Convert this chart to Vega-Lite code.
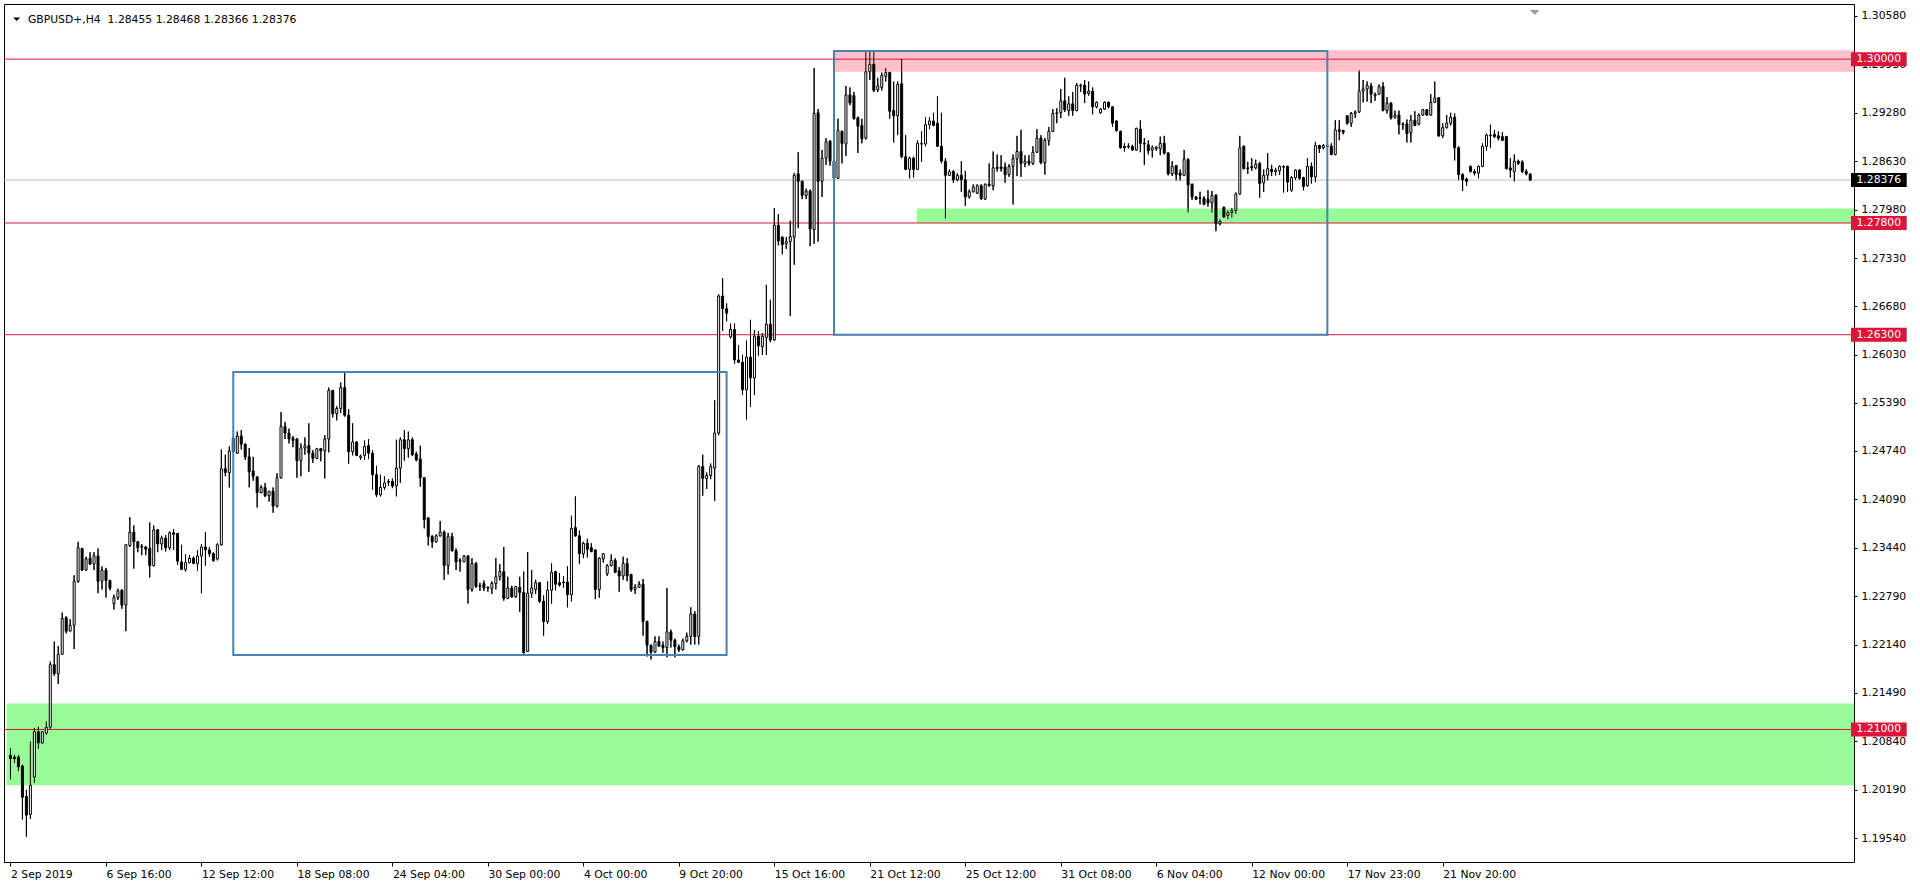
{
"$schema":"https://vega.github.io/schema/vega-lite/v6.json",
"width":1850,"height":858,
"autosize":{"type":"none"},
"padding":{"left":4,"top":4,"right":66,"bottom":26},
"background":"white",
"config":{"view":{"stroke":"black","strokeWidth":1},"font":"DejaVu Sans"},
"datasets":{
"candles":[
{"i":0,"o":1.2065,"h":1.2075,"l":1.2033,"c":1.2061},
{"i":1,"o":1.2063,"h":1.2066,"l":1.2055,"c":1.2061},
{"i":2,"o":1.2063,"h":1.2066,"l":1.2044,"c":1.2050},
{"i":3,"o":1.2051,"h":1.2053,"l":1.1979,"c":1.2009},
{"i":4,"o":1.2010,"h":1.2019,"l":1.1956,"c":1.1985},
{"i":5,"o":1.1986,"h":1.2084,"l":1.1980,"c":1.2025},
{"i":6,"o":1.2036,"h":1.2102,"l":1.2028,"c":1.2097},
{"i":7,"o":1.2097,"h":1.2104,"l":1.2074,"c":1.2082},
{"i":8,"o":1.2082,"h":1.2097,"l":1.2081,"c":1.2097},
{"i":9,"o":1.2095,"h":1.2111,"l":1.2093,"c":1.2103},
{"i":10,"o":1.2103,"h":1.2191,"l":1.2100,"c":1.2187},
{"i":11,"o":1.2187,"h":1.2218,"l":1.2172,"c":1.2175},
{"i":12,"o":1.2175,"h":1.2212,"l":1.2161,"c":1.2201},
{"i":13,"o":1.2201,"h":1.2257,"l":1.2201,"c":1.2249},
{"i":14,"o":1.2250,"h":1.2252,"l":1.2229,"c":1.2232},
{"i":15,"o":1.2232,"h":1.2248,"l":1.2232,"c":1.2240},
{"i":16,"o":1.2240,"h":1.2307,"l":1.2208,"c":1.2299},
{"i":17,"o":1.2299,"h":1.2352,"l":1.2297,"c":1.2344},
{"i":18,"o":1.2343,"h":1.2344,"l":1.2313,"c":1.2314},
{"i":19,"o":1.2314,"h":1.2332,"l":1.2313,"c":1.2329},
{"i":20,"o":1.2330,"h":1.2338,"l":1.2321,"c":1.2322},
{"i":21,"o":1.2322,"h":1.2338,"l":1.2314,"c":1.2333},
{"i":22,"o":1.2333,"h":1.2343,"l":1.2283,"c":1.2299},
{"i":23,"o":1.2299,"h":1.2319,"l":1.2288,"c":1.2314},
{"i":24,"o":1.2314,"h":1.2317,"l":1.2277,"c":1.2300},
{"i":25,"o":1.2300,"h":1.2301,"l":1.2287,"c":1.2290},
{"i":26,"o":1.2269,"h":1.2281,"l":1.2261,"c":1.2277},
{"i":27,"o":1.2277,"h":1.2289,"l":1.2274,"c":1.2286},
{"i":28,"o":1.2287,"h":1.2288,"l":1.2262,"c":1.2267},
{"i":29,"o":1.2267,"h":1.2349,"l":1.2232,"c":1.2348},
{"i":30,"o":1.2347,"h":1.2385,"l":1.2345,"c":1.2365},
{"i":31,"o":1.2365,"h":1.2374,"l":1.2316,"c":1.2352},
{"i":32,"o":1.2352,"h":1.2353,"l":1.2338,"c":1.2344},
{"i":33,"o":1.2346,"h":1.2349,"l":1.2334,"c":1.2345},
{"i":34,"o":1.2345,"h":1.2346,"l":1.2334,"c":1.2342},
{"i":35,"o":1.2343,"h":1.2378,"l":1.2304,"c":1.2320},
{"i":36,"o":1.2320,"h":1.2374,"l":1.2319,"c":1.2368},
{"i":37,"o":1.2368,"h":1.2369,"l":1.2338,"c":1.2349},
{"i":38,"o":1.2349,"h":1.2360,"l":1.2341,"c":1.2357},
{"i":39,"o":1.2357,"h":1.2361,"l":1.2339,"c":1.2344},
{"i":40,"o":1.2344,"h":1.2366,"l":1.2341,"c":1.2364},
{"i":41,"o":1.2364,"h":1.2369,"l":1.2341,"c":1.2362},
{"i":42,"o":1.2363,"h":1.2364,"l":1.2321,"c":1.2326},
{"i":43,"o":1.2325,"h":1.2348,"l":1.2314,"c":1.2315},
{"i":44,"o":1.2315,"h":1.2335,"l":1.2312,"c":1.2324},
{"i":45,"o":1.2324,"h":1.2334,"l":1.2323,"c":1.2330},
{"i":46,"o":1.2330,"h":1.2332,"l":1.2322,"c":1.2323},
{"i":47,"o":1.2323,"h":1.2341,"l":1.2313,"c":1.2333},
{"i":48,"o":1.2333,"h":1.2349,"l":1.2283,"c":1.2345},
{"i":49,"o":1.2345,"h":1.2365,"l":1.2320,"c":1.2341},
{"i":50,"o":1.2341,"h":1.2345,"l":1.2332,"c":1.2336},
{"i":51,"o":1.2336,"h":1.2338,"l":1.2325,"c":1.2327},
{"i":52,"o":1.2329,"h":1.2350,"l":1.2327,"c":1.2348},
{"i":53,"o":1.2348,"h":1.2476,"l":1.2347,"c":1.2450},
{"i":54,"o":1.2450,"h":1.2469,"l":1.2440,"c":1.2445},
{"i":55,"o":1.2445,"h":1.2480,"l":1.2425,"c":1.2474},
{"i":56,"o":1.2473,"h":1.2493,"l":1.2471,"c":1.2491},
{"i":57,"o":1.2471,"h":1.2500,"l":1.2470,"c":1.2494},
{"i":58,"o":1.2494,"h":1.2502,"l":1.2476,"c":1.2483},
{"i":59,"o":1.2483,"h":1.2484,"l":1.2462,"c":1.2466},
{"i":60,"o":1.2466,"h":1.2478,"l":1.2425,"c":1.2446},
{"i":61,"o":1.2447,"h":1.2466,"l":1.2434,"c":1.2440},
{"i":62,"o":1.2439,"h":1.2440,"l":1.2398,"c":1.2418},
{"i":63,"o":1.2418,"h":1.2428,"l":1.2417,"c":1.2425},
{"i":64,"o":1.2425,"h":1.2431,"l":1.2412,"c":1.2414},
{"i":65,"o":1.2414,"h":1.2420,"l":1.2406,"c":1.2420},
{"i":66,"o":1.2420,"h":1.2425,"l":1.2391,"c":1.2400},
{"i":67,"o":1.2400,"h":1.2444,"l":1.2398,"c":1.2438},
{"i":68,"o":1.2438,"h":1.2526,"l":1.2437,"c":1.2507},
{"i":69,"o":1.2507,"h":1.2513,"l":1.2490,"c":1.2498},
{"i":70,"o":1.2498,"h":1.2504,"l":1.2484,"c":1.2490},
{"i":71,"o":1.2491,"h":1.2494,"l":1.2479,"c":1.2488},
{"i":72,"o":1.2490,"h":1.2491,"l":1.2438,"c":1.2461},
{"i":73,"o":1.2461,"h":1.2484,"l":1.2440,"c":1.2478},
{"i":74,"o":1.2478,"h":1.2492,"l":1.2469,"c":1.2481},
{"i":75,"o":1.2481,"h":1.2511,"l":1.2446,"c":1.2471},
{"i":76,"o":1.2471,"h":1.2475,"l":1.2458,"c":1.2464},
{"i":77,"o":1.2464,"h":1.2478,"l":1.2463,"c":1.2477},
{"i":78,"o":1.2477,"h":1.2478,"l":1.2460,"c":1.2474},
{"i":79,"o":1.2474,"h":1.2495,"l":1.2437,"c":1.2490},
{"i":80,"o":1.2490,"h":1.2559,"l":1.2472,"c":1.2555},
{"i":81,"o":1.2555,"h":1.2556,"l":1.2519,"c":1.2524},
{"i":82,"o":1.2524,"h":1.2534,"l":1.2515,"c":1.2531},
{"i":83,"o":1.2531,"h":1.2566,"l":1.2525,"c":1.2559},
{"i":84,"o":1.2559,"h":1.2580,"l":1.2520,"c":1.2522},
{"i":85,"o":1.2522,"h":1.2530,"l":1.2457,"c":1.2473},
{"i":86,"o":1.2473,"h":1.2511,"l":1.2468,"c":1.2486},
{"i":87,"o":1.2486,"h":1.2487,"l":1.2467,"c":1.2468},
{"i":88,"o":1.2465,"h":1.2469,"l":1.2462,"c":1.2467},
{"i":89,"o":1.2468,"h":1.2488,"l":1.2462,"c":1.2480},
{"i":90,"o":1.2481,"h":1.2490,"l":1.2463,"c":1.2471},
{"i":91,"o":1.2471,"h":1.2475,"l":1.2422,"c":1.2442},
{"i":92,"o":1.2442,"h":1.2454,"l":1.2412,"c":1.2415},
{"i":93,"o":1.2415,"h":1.2442,"l":1.2413,"c":1.2425},
{"i":94,"o":1.2425,"h":1.2440,"l":1.2422,"c":1.2431},
{"i":95,"o":1.2432,"h":1.2436,"l":1.2427,"c":1.2433},
{"i":96,"o":1.2433,"h":1.2437,"l":1.2424,"c":1.2427},
{"i":97,"o":1.2427,"h":1.2489,"l":1.2413,"c":1.2451},
{"i":98,"o":1.2451,"h":1.2492,"l":1.2431,"c":1.2489},
{"i":99,"o":1.2489,"h":1.2502,"l":1.2461,"c":1.2477},
{"i":100,"o":1.2477,"h":1.2500,"l":1.2465,"c":1.2489},
{"i":101,"o":1.2489,"h":1.2492,"l":1.2467,"c":1.2469},
{"i":102,"o":1.2470,"h":1.2473,"l":1.2460,"c":1.2462},
{"i":103,"o":1.2463,"h":1.2481,"l":1.2426,"c":1.2438},
{"i":104,"o":1.2438,"h":1.2439,"l":1.2370,"c":1.2382},
{"i":105,"o":1.2384,"h":1.2385,"l":1.2347,"c":1.2359},
{"i":106,"o":1.2359,"h":1.2361,"l":1.2344,"c":1.2352},
{"i":107,"o":1.2352,"h":1.2362,"l":1.2351,"c":1.2360},
{"i":108,"o":1.2360,"h":1.2380,"l":1.2359,"c":1.2365},
{"i":109,"o":1.2365,"h":1.2367,"l":1.2301,"c":1.2320},
{"i":110,"o":1.2320,"h":1.2364,"l":1.2308,"c":1.2359},
{"i":111,"o":1.2359,"h":1.2364,"l":1.2339,"c":1.2340},
{"i":112,"o":1.2340,"h":1.2343,"l":1.2314,"c":1.2325},
{"i":113,"o":1.2327,"h":1.2330,"l":1.2312,"c":1.2326},
{"i":114,"o":1.2325,"h":1.2334,"l":1.2325,"c":1.2333},
{"i":115,"o":1.2333,"h":1.2334,"l":1.2269,"c":1.2288},
{"i":116,"o":1.2288,"h":1.2330,"l":1.2285,"c":1.2323},
{"i":117,"o":1.2323,"h":1.2325,"l":1.2290,"c":1.2292},
{"i":118,"o":1.2293,"h":1.2297,"l":1.2286,"c":1.2292},
{"i":119,"o":1.2296,"h":1.2300,"l":1.2286,"c":1.2290},
{"i":120,"o":1.2290,"h":1.2292,"l":1.2285,"c":1.2291},
{"i":121,"o":1.2289,"h":1.2299,"l":1.2282,"c":1.2296},
{"i":122,"o":1.2296,"h":1.2330,"l":1.2288,"c":1.2305},
{"i":123,"o":1.2305,"h":1.2322,"l":1.2300,"c":1.2312},
{"i":124,"o":1.2312,"h":1.2345,"l":1.2273,"c":1.2276},
{"i":125,"o":1.2276,"h":1.2305,"l":1.2275,"c":1.2290},
{"i":126,"o":1.2290,"h":1.2293,"l":1.2277,"c":1.2278},
{"i":127,"o":1.2278,"h":1.2292,"l":1.2277,"c":1.2292},
{"i":128,"o":1.2291,"h":1.2305,"l":1.2258,"c":1.2284},
{"i":129,"o":1.2284,"h":1.2312,"l":1.2202,"c":1.2203},
{"i":130,"o":1.2205,"h":1.2338,"l":1.2204,"c":1.2283},
{"i":131,"o":1.2283,"h":1.2314,"l":1.2277,"c":1.2290},
{"i":132,"o":1.2288,"h":1.2301,"l":1.2282,"c":1.2297},
{"i":133,"o":1.2297,"h":1.2298,"l":1.2270,"c":1.2272},
{"i":134,"o":1.2272,"h":1.2280,"l":1.2226,"c":1.2245},
{"i":135,"o":1.2245,"h":1.2299,"l":1.2242,"c":1.2287},
{"i":136,"o":1.2287,"h":1.2323,"l":1.2269,"c":1.2311},
{"i":137,"o":1.2312,"h":1.2313,"l":1.2287,"c":1.2295},
{"i":138,"o":1.2297,"h":1.2310,"l":1.2292,"c":1.2294},
{"i":139,"o":1.2298,"h":1.2306,"l":1.2290,"c":1.2297},
{"i":140,"o":1.2298,"h":1.2319,"l":1.2264,"c":1.2281},
{"i":141,"o":1.2281,"h":1.2387,"l":1.2272,"c":1.2370},
{"i":142,"o":1.2371,"h":1.2413,"l":1.2359,"c":1.2360},
{"i":143,"o":1.2360,"h":1.2367,"l":1.2322,"c":1.2336},
{"i":144,"o":1.2336,"h":1.2352,"l":1.2330,"c":1.2350},
{"i":145,"o":1.2350,"h":1.2356,"l":1.2331,"c":1.2342},
{"i":146,"o":1.2344,"h":1.2350,"l":1.2338,"c":1.2339},
{"i":147,"o":1.2341,"h":1.2342,"l":1.2275,"c":1.2288},
{"i":148,"o":1.2288,"h":1.2331,"l":1.2277,"c":1.2330},
{"i":149,"o":1.2329,"h":1.2337,"l":1.2324,"c":1.2336},
{"i":150,"o":1.2309,"h":1.2322,"l":1.2306,"c":1.2320},
{"i":151,"o":1.2320,"h":1.2335,"l":1.2319,"c":1.2327},
{"i":152,"o":1.2327,"h":1.2330,"l":1.2310,"c":1.2311},
{"i":153,"o":1.2313,"h":1.2318,"l":1.2285,"c":1.2306},
{"i":154,"o":1.2306,"h":1.2332,"l":1.2301,"c":1.2323},
{"i":155,"o":1.2323,"h":1.2330,"l":1.2299,"c":1.2306},
{"i":156,"o":1.2308,"h":1.2309,"l":1.2285,"c":1.2288},
{"i":157,"o":1.2288,"h":1.2295,"l":1.2282,"c":1.2291},
{"i":158,"o":1.2291,"h":1.2299,"l":1.2290,"c":1.2295},
{"i":159,"o":1.2295,"h":1.2302,"l":1.2226,"c":1.2245},
{"i":160,"o":1.2245,"h":1.2246,"l":1.2198,"c":1.2213},
{"i":161,"o":1.2213,"h":1.2214,"l":1.2194,"c":1.2204},
{"i":162,"o":1.2204,"h":1.2225,"l":1.2203,"c":1.2218},
{"i":163,"o":1.2218,"h":1.2225,"l":1.2211,"c":1.2212},
{"i":164,"o":1.2213,"h":1.2218,"l":1.2203,"c":1.2210},
{"i":165,"o":1.2210,"h":1.2290,"l":1.2197,"c":1.2231},
{"i":166,"o":1.2231,"h":1.2234,"l":1.2210,"c":1.2220},
{"i":167,"o":1.2220,"h":1.2222,"l":1.2197,"c":1.2211},
{"i":168,"o":1.2211,"h":1.2214,"l":1.2204,"c":1.2207},
{"i":169,"o":1.2207,"h":1.2222,"l":1.2206,"c":1.2219},
{"i":170,"o":1.2219,"h":1.2230,"l":1.2217,"c":1.2225},
{"i":171,"o":1.2225,"h":1.2264,"l":1.2214,"c":1.2255},
{"i":172,"o":1.2255,"h":1.2259,"l":1.2214,"c":1.2225},
{"i":173,"o":1.2225,"h":1.2455,"l":1.2214,"c":1.2453},
{"i":174,"o":1.2453,"h":1.2469,"l":1.2414,"c":1.2437},
{"i":175,"o":1.2437,"h":1.2445,"l":1.2423,"c":1.2441},
{"i":176,"o":1.2441,"h":1.2457,"l":1.2436,"c":1.2453},
{"i":177,"o":1.2451,"h":1.2542,"l":1.2407,"c":1.2498},
{"i":178,"o":1.2498,"h":1.2684,"l":1.2495,"c":1.2682},
{"i":179,"o":1.2682,"h":1.2706,"l":1.2635,"c":1.2665},
{"i":180,"o":1.2665,"h":1.2672,"l":1.2648,"c":1.2659},
{"i":181,"o":1.2627,"h":1.2645,"l":1.2625,"c":1.2637},
{"i":182,"o":1.2637,"h":1.2645,"l":1.2591,"c":1.2596},
{"i":183,"o":1.2596,"h":1.2616,"l":1.2592,"c":1.2593},
{"i":184,"o":1.2593,"h":1.2603,"l":1.2549,"c":1.2556},
{"i":185,"o":1.2556,"h":1.2622,"l":1.2516,"c":1.2600},
{"i":186,"o":1.2600,"h":1.2650,"l":1.2533,"c":1.2572},
{"i":187,"o":1.2572,"h":1.2636,"l":1.2549,"c":1.2628},
{"i":188,"o":1.2628,"h":1.2635,"l":1.2602,"c":1.2615},
{"i":189,"o":1.2614,"h":1.2632,"l":1.2603,"c":1.2628},
{"i":190,"o":1.2626,"h":1.2697,"l":1.2603,"c":1.2644},
{"i":191,"o":1.2644,"h":1.2677,"l":1.2620,"c":1.2623},
{"i":192,"o":1.2623,"h":1.2800,"l":1.2622,"c":1.2777},
{"i":193,"o":1.2777,"h":1.2792,"l":1.2750,"c":1.2756},
{"i":194,"o":1.2761,"h":1.2762,"l":1.2738,"c":1.2751},
{"i":195,"o":1.2752,"h":1.2761,"l":1.2745,"c":1.2755},
{"i":196,"o":1.2755,"h":1.2783,"l":1.2655,"c":1.2762},
{"i":197,"o":1.2761,"h":1.2847,"l":1.2724,"c":1.2844},
{"i":198,"o":1.2846,"h":1.2875,"l":1.2773,"c":1.2836},
{"i":199,"o":1.2836,"h":1.2837,"l":1.2812,"c":1.2817},
{"i":200,"o":1.2817,"h":1.2826,"l":1.2812,"c":1.2823},
{"i":201,"o":1.2823,"h":1.2825,"l":1.2749,"c":1.2772},
{"i":202,"o":1.2771,"h":1.2988,"l":1.2752,"c":1.2927},
{"i":203,"o":1.2928,"h":1.2933,"l":1.2755,"c":1.2836},
{"i":204,"o":1.2836,"h":1.2878,"l":1.2815,"c":1.2867},
{"i":205,"o":1.2867,"h":1.2894,"l":1.2858,"c":1.2889},
{"i":206,"o":1.2890,"h":1.2891,"l":1.2857,"c":1.2863},
{"i":207,"o":1.2863,"h":1.2874,"l":1.2838,"c":1.2840},
{"i":208,"o":1.2840,"h":1.2920,"l":1.2839,"c":1.2904},
{"i":209,"o":1.2903,"h":1.2904,"l":1.2860,"c":1.2887},
{"i":210,"o":1.2886,"h":1.2964,"l":1.2870,"c":1.2952},
{"i":211,"o":1.2952,"h":1.2962,"l":1.2938,"c":1.2941},
{"i":212,"o":1.2951,"h":1.2956,"l":1.2919,"c":1.2920},
{"i":213,"o":1.2921,"h":1.2923,"l":1.2874,"c":1.2910},
{"i":214,"o":1.2911,"h":1.2920,"l":1.2887,"c":1.2893},
{"i":215,"o":1.2894,"h":1.3010,"l":1.2892,"c":1.2983},
{"i":216,"o":1.2983,"h":1.3010,"l":1.2972,"c":1.2993},
{"i":217,"o":1.2993,"h":1.3010,"l":1.2956,"c":1.2958},
{"i":218,"o":1.2959,"h":1.2975,"l":1.2956,"c":1.2964},
{"i":219,"o":1.2962,"h":1.2982,"l":1.2958,"c":1.2978},
{"i":220,"o":1.2977,"h":1.2988,"l":1.2970,"c":1.2982},
{"i":221,"o":1.2982,"h":1.2983,"l":1.2920,"c":1.2930},
{"i":222,"o":1.2931,"h":1.2970,"l":1.2888,"c":1.2924},
{"i":223,"o":1.2924,"h":1.2970,"l":1.2898,"c":1.2966},
{"i":224,"o":1.2967,"h":1.3000,"l":1.2867,"c":1.2869},
{"i":225,"o":1.2869,"h":1.2898,"l":1.2851,"c":1.2852},
{"i":226,"o":1.2852,"h":1.2869,"l":1.2840,"c":1.2867},
{"i":227,"o":1.2867,"h":1.2869,"l":1.2841,"c":1.2852},
{"i":228,"o":1.2852,"h":1.2891,"l":1.2851,"c":1.2887},
{"i":229,"o":1.2886,"h":1.2903,"l":1.2862,"c":1.2887},
{"i":230,"o":1.2886,"h":1.2922,"l":1.2883,"c":1.2912},
{"i":231,"o":1.2912,"h":1.2922,"l":1.2906,"c":1.2917},
{"i":232,"o":1.2917,"h":1.2928,"l":1.2910,"c":1.2911},
{"i":233,"o":1.2914,"h":1.2950,"l":1.2882,"c":1.2883},
{"i":234,"o":1.2883,"h":1.2928,"l":1.2860,"c":1.2863},
{"i":235,"o":1.2863,"h":1.2867,"l":1.2786,"c":1.2844},
{"i":236,"o":1.2844,"h":1.2852,"l":1.2843,"c":1.2849},
{"i":237,"o":1.2849,"h":1.2851,"l":1.2834,"c":1.2838},
{"i":238,"o":1.2838,"h":1.2847,"l":1.2836,"c":1.2844},
{"i":239,"o":1.2844,"h":1.2863,"l":1.2822,"c":1.2838},
{"i":240,"o":1.2838,"h":1.2850,"l":1.2803,"c":1.2815},
{"i":241,"o":1.2815,"h":1.2825,"l":1.2813,"c":1.2822},
{"i":242,"o":1.2822,"h":1.2832,"l":1.2821,"c":1.2828},
{"i":243,"o":1.2820,"h":1.2832,"l":1.2819,"c":1.2830},
{"i":244,"o":1.2830,"h":1.2832,"l":1.2811,"c":1.2813},
{"i":245,"o":1.2812,"h":1.2833,"l":1.2811,"c":1.2832},
{"i":246,"o":1.2832,"h":1.2860,"l":1.2829,"c":1.2830},
{"i":247,"o":1.2830,"h":1.2876,"l":1.2824,"c":1.2854},
{"i":248,"o":1.2855,"h":1.2872,"l":1.2849,"c":1.2853},
{"i":249,"o":1.2855,"h":1.2871,"l":1.2849,"c":1.2853},
{"i":250,"o":1.2855,"h":1.2861,"l":1.2834,"c":1.2845},
{"i":251,"o":1.2845,"h":1.2859,"l":1.2842,"c":1.2856},
{"i":252,"o":1.2856,"h":1.2872,"l":1.2805,"c":1.2866},
{"i":253,"o":1.2866,"h":1.2897,"l":1.2843,"c":1.2876},
{"i":254,"o":1.2876,"h":1.2905,"l":1.2842,"c":1.2860},
{"i":255,"o":1.2860,"h":1.2871,"l":1.2855,"c":1.2863},
{"i":256,"o":1.2863,"h":1.2871,"l":1.2857,"c":1.2860},
{"i":257,"o":1.2860,"h":1.2883,"l":1.2858,"c":1.2875},
{"i":258,"o":1.2875,"h":1.2906,"l":1.2874,"c":1.2894},
{"i":259,"o":1.2894,"h":1.2898,"l":1.2859,"c":1.2861},
{"i":260,"o":1.2861,"h":1.2894,"l":1.2845,"c":1.2891},
{"i":261,"o":1.2891,"h":1.2909,"l":1.2884,"c":1.2903},
{"i":262,"o":1.2903,"h":1.2933,"l":1.2902,"c":1.2927},
{"i":263,"o":1.2927,"h":1.2934,"l":1.2914,"c":1.2928},
{"i":264,"o":1.2928,"h":1.2960,"l":1.2921,"c":1.2944},
{"i":265,"o":1.2944,"h":1.2975,"l":1.2929,"c":1.2932},
{"i":266,"o":1.2931,"h":1.2950,"l":1.2924,"c":1.2940},
{"i":267,"o":1.2940,"h":1.2956,"l":1.2924,"c":1.2931},
{"i":268,"o":1.2931,"h":1.2968,"l":1.2930,"c":1.2965},
{"i":269,"o":1.2965,"h":1.2967,"l":1.2956,"c":1.2964},
{"i":270,"o":1.2965,"h":1.2972,"l":1.2941,"c":1.2953},
{"i":271,"o":1.2954,"h":1.2970,"l":1.2951,"c":1.2957},
{"i":272,"o":1.2957,"h":1.2962,"l":1.2926,"c":1.2936},
{"i":273,"o":1.2936,"h":1.2943,"l":1.2934,"c":1.2942},
{"i":274,"o":1.2928,"h":1.2934,"l":1.2927,"c":1.2933},
{"i":275,"o":1.2933,"h":1.2943,"l":1.2932,"c":1.2942},
{"i":276,"o":1.2942,"h":1.2943,"l":1.2934,"c":1.2936},
{"i":277,"o":1.2936,"h":1.2937,"l":1.2909,"c":1.2914},
{"i":278,"o":1.2917,"h":1.2918,"l":1.2903,"c":1.2904},
{"i":279,"o":1.2903,"h":1.2904,"l":1.2880,"c":1.2881},
{"i":280,"o":1.2883,"h":1.2887,"l":1.2876,"c":1.2881},
{"i":281,"o":1.2883,"h":1.2887,"l":1.2880,"c":1.2882},
{"i":282,"o":1.2883,"h":1.2885,"l":1.2877,"c":1.2878},
{"i":283,"o":1.2878,"h":1.2908,"l":1.2877,"c":1.2907},
{"i":284,"o":1.2906,"h":1.2918,"l":1.2875,"c":1.2887},
{"i":285,"o":1.2887,"h":1.2894,"l":1.2858,"c":1.2886},
{"i":286,"o":1.2885,"h":1.2891,"l":1.2872,"c":1.2877},
{"i":287,"o":1.2878,"h":1.2884,"l":1.2868,"c":1.2881},
{"i":288,"o":1.2880,"h":1.2883,"l":1.2877,"c":1.2882},
{"i":289,"o":1.2880,"h":1.2896,"l":1.2871,"c":1.2887},
{"i":290,"o":1.2887,"h":1.2897,"l":1.2872,"c":1.2874},
{"i":291,"o":1.2874,"h":1.2875,"l":1.2844,"c":1.2846},
{"i":292,"o":1.2846,"h":1.2863,"l":1.2843,"c":1.2856},
{"i":293,"o":1.2857,"h":1.2858,"l":1.2837,"c":1.2845},
{"i":294,"o":1.2847,"h":1.2852,"l":1.2837,"c":1.2844},
{"i":295,"o":1.2844,"h":1.2878,"l":1.2843,"c":1.2866},
{"i":296,"o":1.2865,"h":1.2867,"l":1.2794,"c":1.2831},
{"i":297,"o":1.2832,"h":1.2833,"l":1.2811,"c":1.2815},
{"i":298,"o":1.2815,"h":1.2816,"l":1.2811,"c":1.2812},
{"i":299,"o":1.2814,"h":1.2822,"l":1.2805,"c":1.2813},
{"i":300,"o":1.2813,"h":1.2816,"l":1.2804,"c":1.2805},
{"i":301,"o":1.2812,"h":1.2824,"l":1.2802,"c":1.2807},
{"i":302,"o":1.2807,"h":1.2823,"l":1.2794,"c":1.2817},
{"i":303,"o":1.2817,"h":1.2819,"l":1.2769,"c":1.2779},
{"i":304,"o":1.2779,"h":1.2785,"l":1.2777,"c":1.2782},
{"i":305,"o":1.2801,"h":1.2802,"l":1.2787,"c":1.2788},
{"i":306,"o":1.2790,"h":1.2797,"l":1.2785,"c":1.2794},
{"i":307,"o":1.2794,"h":1.2800,"l":1.2787,"c":1.2797},
{"i":308,"o":1.2797,"h":1.2821,"l":1.2792,"c":1.2819},
{"i":309,"o":1.2819,"h":1.2897,"l":1.2818,"c":1.2881},
{"i":310,"o":1.2883,"h":1.2884,"l":1.2852,"c":1.2853},
{"i":311,"o":1.2854,"h":1.2862,"l":1.2846,"c":1.2853},
{"i":312,"o":1.2856,"h":1.2867,"l":1.2850,"c":1.2854},
{"i":313,"o":1.2854,"h":1.2865,"l":1.2852,"c":1.2859},
{"i":314,"o":1.2860,"h":1.2862,"l":1.2814,"c":1.2833},
{"i":315,"o":1.2834,"h":1.2852,"l":1.2822,"c":1.2844},
{"i":316,"o":1.2844,"h":1.2874,"l":1.2837,"c":1.2853},
{"i":317,"o":1.2852,"h":1.2858,"l":1.2843,"c":1.2849},
{"i":318,"o":1.2849,"h":1.2854,"l":1.2844,"c":1.2851},
{"i":319,"o":1.2850,"h":1.2857,"l":1.2845,"c":1.2856},
{"i":320,"o":1.2856,"h":1.2857,"l":1.2821,"c":1.2855},
{"i":321,"o":1.2856,"h":1.2857,"l":1.2822,"c":1.2835},
{"i":322,"o":1.2824,"h":1.2843,"l":1.2822,"c":1.2841},
{"i":323,"o":1.2841,"h":1.2852,"l":1.2838,"c":1.2851},
{"i":324,"o":1.2851,"h":1.2852,"l":1.2838,"c":1.2840},
{"i":325,"o":1.2841,"h":1.2842,"l":1.2824,"c":1.2829},
{"i":326,"o":1.2830,"h":1.2867,"l":1.2829,"c":1.2856},
{"i":327,"o":1.2856,"h":1.2861,"l":1.2833,"c":1.2842},
{"i":328,"o":1.2842,"h":1.2889,"l":1.2835,"c":1.2884},
{"i":329,"o":1.2884,"h":1.2885,"l":1.2874,"c":1.2880},
{"i":330,"o":1.2881,"h":1.2886,"l":1.2879,"c":1.2884},
{"i":331,"o":1.2884,"h":1.2887,"l":1.2881,"c":1.2883},
{"i":332,"o":1.2883,"h":1.2887,"l":1.2871,"c":1.2872},
{"i":333,"o":1.2872,"h":1.2918,"l":1.2871,"c":1.2905},
{"i":334,"o":1.2905,"h":1.2918,"l":1.2891,"c":1.2903},
{"i":335,"o":1.2904,"h":1.2905,"l":1.2899,"c":1.2902},
{"i":336,"o":1.2924,"h":1.2925,"l":1.2912,"c":1.2914},
{"i":337,"o":1.2914,"h":1.2929,"l":1.2909,"c":1.2927},
{"i":338,"o":1.2927,"h":1.2931,"l":1.2921,"c":1.2929},
{"i":339,"o":1.2929,"h":1.2985,"l":1.2928,"c":1.2957},
{"i":340,"o":1.2957,"h":1.2972,"l":1.2942,"c":1.2960},
{"i":341,"o":1.2960,"h":1.2970,"l":1.2943,"c":1.2965},
{"i":342,"o":1.2964,"h":1.2968,"l":1.2941,"c":1.2953},
{"i":343,"o":1.2951,"h":1.2955,"l":1.2944,"c":1.2953},
{"i":344,"o":1.2953,"h":1.2966,"l":1.2952,"c":1.2963},
{"i":345,"o":1.2963,"h":1.2969,"l":1.2930,"c":1.2931},
{"i":346,"o":1.2931,"h":1.2949,"l":1.2927,"c":1.2941},
{"i":347,"o":1.2941,"h":1.2942,"l":1.2919,"c":1.2921},
{"i":348,"o":1.2922,"h":1.2931,"l":1.2920,"c":1.2925},
{"i":349,"o":1.2925,"h":1.2931,"l":1.2899,"c":1.2912},
{"i":350,"o":1.2913,"h":1.2915,"l":1.2905,"c":1.2912},
{"i":351,"o":1.2913,"h":1.2919,"l":1.2888,"c":1.2900},
{"i":352,"o":1.2901,"h":1.2925,"l":1.2888,"c":1.2918},
{"i":353,"o":1.2918,"h":1.2930,"l":1.2910,"c":1.2911},
{"i":354,"o":1.2913,"h":1.2927,"l":1.2911,"c":1.2925},
{"i":355,"o":1.2925,"h":1.2933,"l":1.2924,"c":1.2932},
{"i":356,"o":1.2932,"h":1.2933,"l":1.2924,"c":1.2925},
{"i":357,"o":1.2925,"h":1.2953,"l":1.2924,"c":1.2942},
{"i":358,"o":1.2942,"h":1.2970,"l":1.2941,"c":1.2948},
{"i":359,"o":1.2948,"h":1.2949,"l":1.2896,"c":1.2897},
{"i":360,"o":1.2897,"h":1.2914,"l":1.2894,"c":1.2908},
{"i":361,"o":1.2908,"h":1.2925,"l":1.2907,"c":1.2914},
{"i":362,"o":1.2914,"h":1.2928,"l":1.2911,"c":1.2922},
{"i":363,"o":1.2922,"h":1.2927,"l":1.2864,"c":1.2881},
{"i":364,"o":1.2881,"h":1.2883,"l":1.2838,"c":1.2845},
{"i":365,"o":1.2845,"h":1.2847,"l":1.2823,"c":1.2838},
{"i":366,"o":1.2839,"h":1.2841,"l":1.2830,"c":1.2836},
{"i":367,"o":1.2856,"h":1.2857,"l":1.2848,"c":1.2849},
{"i":368,"o":1.2849,"h":1.2852,"l":1.2844,"c":1.2847},
{"i":369,"o":1.2847,"h":1.2857,"l":1.2840,"c":1.2856},
{"i":370,"o":1.2856,"h":1.2887,"l":1.2855,"c":1.2883},
{"i":371,"o":1.2883,"h":1.2900,"l":1.2877,"c":1.2898},
{"i":372,"o":1.2898,"h":1.2912,"l":1.2881,"c":1.2897},
{"i":373,"o":1.2899,"h":1.2905,"l":1.2894,"c":1.2896},
{"i":374,"o":1.2897,"h":1.2903,"l":1.2891,"c":1.2894},
{"i":375,"o":1.2896,"h":1.2902,"l":1.2890,"c":1.2891},
{"i":376,"o":1.2896,"h":1.2897,"l":1.2852,"c":1.2853},
{"i":377,"o":1.2854,"h":1.2867,"l":1.2841,"c":1.2851},
{"i":378,"o":1.2849,"h":1.2872,"l":1.2836,"c":1.2863},
{"i":379,"o":1.2863,"h":1.2865,"l":1.2858,"c":1.2860},
{"i":380,"o":1.2862,"h":1.2864,"l":1.2847,"c":1.2849},
{"i":381,"o":1.2849,"h":1.2852,"l":1.2844,"c":1.2846},
{"i":382,"o":1.28455,"h":1.28468,"l":1.28366,"c":1.28376}
],
"zones":[
{"kind":"support","x1":-1,"x2":470,"p1":1.2025,"p2":1.2135},
{"kind":"support","x1":227.8,"x2":470,"p1":1.2780,"p2":1.27995},
{"kind":"resistance","x1":207,"x2":470,"p1":1.2983,"p2":1.3012}
],
"levels":[
{"p":1.30,"t":"1.30000","kind":"level"},
{"p":1.278,"t":"1.27800","kind":"level"},
{"p":1.263,"t":"1.26300","kind":"level"},
{"p":1.21,"t":"1.21000","kind":"level"},
{"p":1.28376,"t":"1.28376","kind":"last"}
],
"boxes":[
{"x1":56,"x2":180,"p1":1.2200,"p2":1.2580},
{"x1":207,"x2":331,"p1":1.2630,"p2":1.3011}
]
},
"layer":[
{"data":{"name":"candles"},
 "mark":{"type":"rule","color":"black","strokeWidth":1},
 "encoding":{
  "x":{"field":"i","type":"quantitative","scale":{"domain":[-0.375,462.125],"nice":false,"zero":false},
   "axis":{"values":[0,24,48,72,96,120,144,168,192,216,240,264,288,312,336,360],
    "labelExpr":"['2 Sep 2019','6 Sep 16:00','12 Sep 12:00','18 Sep 08:00','24 Sep 04:00','30 Sep 00:00','4 Oct 00:00','9 Oct 20:00','15 Oct 16:00','21 Oct 12:00','25 Oct 12:00','31 Oct 08:00','6 Nov 04:00','12 Nov 00:00','17 Nov 23:00','21 Nov 20:00'][round(datum.value/24)]",
    "labelAlign":"left","labelBaseline":"top","labelPadding":2,"tickSize":4,"tickColor":"black","domain":false,"grid":false,"title":null,
    "labelColor":"black","labelFont":"DejaVu Sans","labelFontSize":10.8,"labelFlush":false,"labelOverlap":false,"labelBound":false}},
  "y":{"field":"l","type":"quantitative","scale":{"domain":[1.192879,1.306732],"nice":false,"zero":false},
   "axis":{"orient":"right","values":[1.1954,1.2019,1.2084,1.2149,1.2214,1.2279,1.2344,1.2409,1.2474,1.2539,1.2603,1.2668,1.2733,1.2798,1.2863,1.2928,1.2993,1.3058],
    "format":".5f","tickSize":3,"tickColor":"black","labelPadding":4,"labelAlign":"left","labelBaseline":"middle","domain":false,"grid":false,"title":null,
    "labelColor":"black","labelFont":"DejaVu Sans","labelFontSize":10.8,"labelOverlap":false,"labelBound":false,"labelFlush":false}},
  "y2":{"field":"h"}
 }},
{"data":{"name":"zones"},
 "mark":{"type":"rect","clip":true},
 "encoding":{
  "x":{"field":"x1","type":"quantitative","scale":{"domain":[-0.375,462.125],"nice":false,"zero":false}},
  "x2":{"field":"x2"},
  "y":{"field":"p1","type":"quantitative","scale":{"domain":[1.192879,1.306732],"nice":false,"zero":false}},
  "y2":{"field":"p2"},
  "color":{"condition":{"test":"datum.kind==='resistance'","value":"#FFC0CB"},"value":"#98FB98"}
 }},
{"data":{"name":"levels"},
 "transform":[{"filter":"datum.kind==='level'"}],
 "mark":{"type":"rule","color":"#DC143C","strokeWidth":1},
 "encoding":{
  "y":{"field":"p","type":"quantitative","scale":{"domain":[1.192879,1.306732],"nice":false,"zero":false}}
 }},
{"data":{"name":"levels"},
 "transform":[{"filter":"datum.kind==='last'"}],
 "mark":{"type":"rule","color":"#C0C0C0","strokeWidth":1},
 "encoding":{
  "y":{"field":"p","type":"quantitative","scale":{"domain":[1.192879,1.306732],"nice":false,"zero":false}}
 }},
{"data":{"name":"candles"},
 "mark":{"type":"rule","color":"black","strokeWidth":1},
 "encoding":{
  "x":{"field":"i","type":"quantitative","scale":{"domain":[-0.375,462.125],"nice":false,"zero":false}},
  "y":{"field":"l","type":"quantitative","scale":{"domain":[1.192879,1.306732],"nice":false,"zero":false}},
  "y2":{"field":"h"}
 }},
{"data":{"name":"candles"},
 "mark":{"type":"bar","width":2,"stroke":"black","strokeWidth":1},
 "encoding":{
  "x":{"field":"i","type":"quantitative","scale":{"domain":[-0.375,462.125],"nice":false,"zero":false}},
  "y":{"field":"o","type":"quantitative","scale":{"domain":[1.192879,1.306732],"nice":false,"zero":false}},
  "y2":{"field":"c"},
  "fill":{"condition":{"test":"datum.c < datum.o","value":"black"},"value":"white"}
 }},
{"data":{"name":"boxes"},
 "mark":{"type":"rect","fillOpacity":0,"stroke":"#4682B4","strokeWidth":2},
 "encoding":{
  "x":{"field":"x1","type":"quantitative","scale":{"domain":[-0.375,462.125],"nice":false,"zero":false}},
  "x2":{"field":"x2"},
  "y":{"field":"p1","type":"quantitative","scale":{"domain":[1.192879,1.306732],"nice":false,"zero":false}},
  "y2":{"field":"p2"}
 }},
{"data":{"name":"levels"},
 "mark":{"type":"bar","height":14,"orient":"horizontal","clip":false},
 "encoding":{
  "x":{"datum":462.625,"type":"quantitative","scale":{"domain":[-0.375,462.125],"nice":false,"zero":false}},
  "x2":{"datum":476.625},
  "y":{"field":"p","type":"quantitative","scale":{"domain":[1.192879,1.306732],"nice":false,"zero":false}},
  "color":{"condition":{"test":"datum.kind==='last'","value":"black"},"value":"#DC143C"}
 }},
{"data":{"name":"levels"},
 "mark":{"type":"text","align":"left","baseline":"middle","color":"white","font":"DejaVu Sans","fontSize":10.8,"clip":false},
 "encoding":{
  "x":{"datum":464.0,"type":"quantitative","scale":{"domain":[-0.375,462.125],"nice":false,"zero":false}},
  "y":{"field":"p","type":"quantitative","scale":{"domain":[1.192879,1.306732],"nice":false,"zero":false}},
  "text":{"field":"t"}
 }},
{"data":{"values":[{"t":"GBPUSD+,H4\u00a0 1.28455 1.28468 1.28366 1.28376"}]},
 "mark":{"type":"text","align":"left","baseline":"middle","color":"black","font":"DejaVu Sans","fontSize":10.8},
 "encoding":{
  "x":{"datum":4.375,"type":"quantitative","scale":{"domain":[-0.375,462.125],"nice":false,"zero":false}},
  "y":{"datum":1.30527,"type":"quantitative","scale":{"domain":[1.192879,1.306732],"nice":false,"zero":false}},
  "text":{"field":"t"}
 }},
{"data":{"values":[{"s":"menu"}]},
 "mark":{"type":"point","shape":"M -1 -0.5 L 1 -0.5 L 0 0.5 Z","filled":true,"color":"black","size":49,"opacity":1},
 "encoding":{
  "x":{"datum":1.55,"type":"quantitative","scale":{"domain":[-0.375,462.125],"nice":false,"zero":false}},
  "y":{"datum":1.30534,"type":"quantitative","scale":{"domain":[1.192879,1.306732],"nice":false,"zero":false}}
 }},
{"data":{"values":[{"s":"shift"}]},
 "mark":{"type":"point","shape":"M -1 -0.5 L 1 -0.5 L 0 0.5 Z","filled":true,"color":"#A0A0A0","size":100,"opacity":1},
 "encoding":{
  "x":{"datum":383.125,"type":"quantitative","scale":{"domain":[-0.375,462.125],"nice":false,"zero":false}},
  "y":{"datum":1.30627,"type":"quantitative","scale":{"domain":[1.192879,1.306732],"nice":false,"zero":false}}
 }}
]
}
